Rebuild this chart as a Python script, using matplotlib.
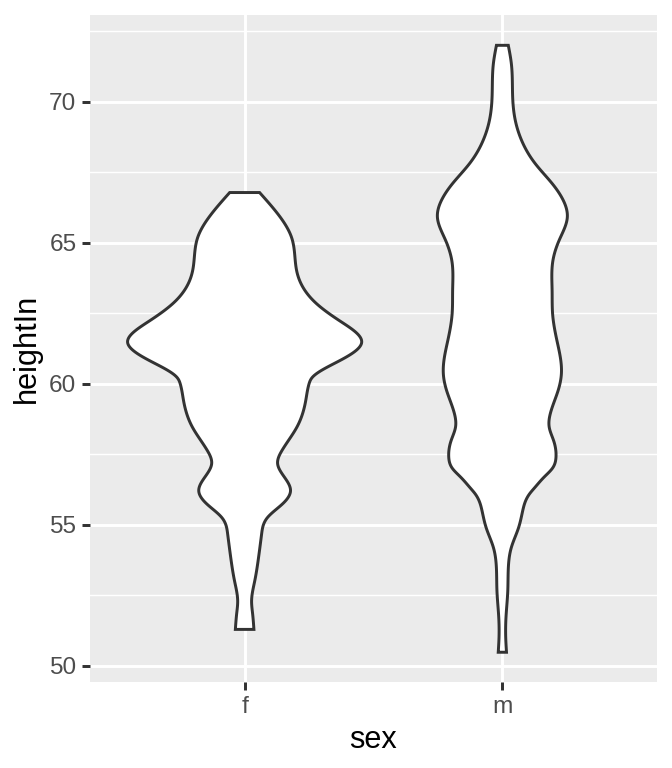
import numpy as np
import matplotlib
matplotlib.use("Agg")
import matplotlib.pyplot as plt

plt.rcParams['font.family'] = ['Liberation Sans', 'DejaVu Sans']

# ---- data: violin outlines (height, half-width in x units)
categories = ["f", "m"]

f_height = [51.29, 51.84, 52.3, 53.0, 53.84, 54.68, 55.26, 55.74, 56.2, 56.68,
            57.16, 57.62, 58.45, 59.4, 60.0, 60.22, 60.82, 61.46, 62.23, 62.84, 64.0,
            65.19, 66.03, 66.78]
f_halfwidth = [0.036, 0.031, 0.027, 0.039, 0.054, 0.066, 0.089, 0.147, 0.178, 0.155,
               0.128, 0.144, 0.202, 0.237, 0.250, 0.262, 0.369, 0.454, 0.369, 0.279, 0.202,
               0.182, 0.128, 0.058]

m_height = [50.48, 51.0, 51.71, 52.66, 53.6, 54.2, 54.9, 55.5, 56.09, 56.3,
            56.7, 57.0, 57.39, 57.98, 58.45, 58.94, 59.75, 60.35, 61.52, 62.47,
            63.3, 64.36, 65.1, 65.9, 66.49, 67.09, 67.8, 68.6, 69.44, 70.15,
            71.34, 72.0]
m_halfwidth = [0.016, 0.013, 0.014, 0.021, 0.024, 0.035, 0.063, 0.079, 0.105, 0.124,
               0.163, 0.194, 0.208, 0.199, 0.182, 0.186, 0.216, 0.229, 0.212, 0.195,
               0.193, 0.196, 0.221, 0.252, 0.237, 0.194, 0.128, 0.076, 0.048, 0.040,
               0.035, 0.023]

yticks = [50, 55, 60, 65, 70]
yminor = [52.5, 57.5, 62.5, 67.5, 72.5]


def smooth(y, h, n=600):
    """Natural cubic spline through the read outline points (for drawing only)."""
    y = np.asarray(y, float)
    h = np.asarray(h, float)
    k = len(y)
    dy = np.diff(y)
    A = np.zeros((k, k))
    b = np.zeros(k)
    A[0, 0] = A[-1, -1] = 1.0
    for i in range(1, k - 1):
        A[i, i - 1] = dy[i - 1]
        A[i, i] = 2 * (dy[i - 1] + dy[i])
        A[i, i + 1] = dy[i]
        b[i] = 6 * ((h[i + 1] - h[i]) / dy[i] - (h[i] - h[i - 1]) / dy[i - 1])
    M = np.linalg.solve(A, b)
    ys = np.linspace(y[0], y[-1], n)
    idx = np.clip(np.searchsorted(y, ys) - 1, 0, k - 2)
    y0, y1 = y[idx], y[idx + 1]
    d = y1 - y0
    a = (y1 - ys) / d
    c = (ys - y0) / d
    hs = (a * h[idx] + c * h[idx + 1]
          + ((a**3 - a) * M[idx] + (c**3 - c) * M[idx + 1]) * d**2 / 6)
    return ys, np.maximum(hs, 0.005)


LW = 1.48  # ggplot 0.5 mm line at this resolution

fig = plt.figure(figsize=(672 / 144, 768 / 144), dpi=144)
ax = fig.add_axes([90 / 672, 1 - 682 / 768, 567 / 672, 667 / 768])
ax.set_facecolor("#EBEBEB")

for sp in ax.spines.values():
    sp.set_visible(False)

# grid
for v in yminor:
    ax.axhline(v, color="white", lw=LW / 2, zorder=0.5)
for v in yticks:
    ax.axhline(v, color="white", lw=LW, zorder=0.6)
for i in range(len(categories)):
    ax.axvline(i + 1, color="white", lw=LW, zorder=0.6)

for i, (yy, hh) in enumerate([(f_height, f_halfwidth), (m_height, m_halfwidth)]):
    ys, hs = smooth(yy, hh)
    c = i + 1
    xs = np.concatenate([c + hs, (c - hs)[::-1]])
    yv = np.concatenate([ys, ys[::-1]])
    ax.fill(xs, yv, facecolor="white", edgecolor="#333333", lw=LW, zorder=2,
            joinstyle="miter")

ax.set_xlim(0.4, 2.6)
ax.set_ylim(49.425, 73.075)
ax.set_xticks([1, 2])
ax.set_xticklabels(categories)
ax.set_yticks(yticks)
ax.tick_params(axis="both", length=3.8, width=LW, color="#333333",
               labelcolor="#4D4D4D", labelsize=12.2, pad=3.0)
ax.set_xlabel("sex", fontsize=15.3, color="black", labelpad=3.8)
ax.set_ylabel("heightIn", fontsize=15.3, color="black", labelpad=3.8)

fig.savefig("out.png", dpi=144)
